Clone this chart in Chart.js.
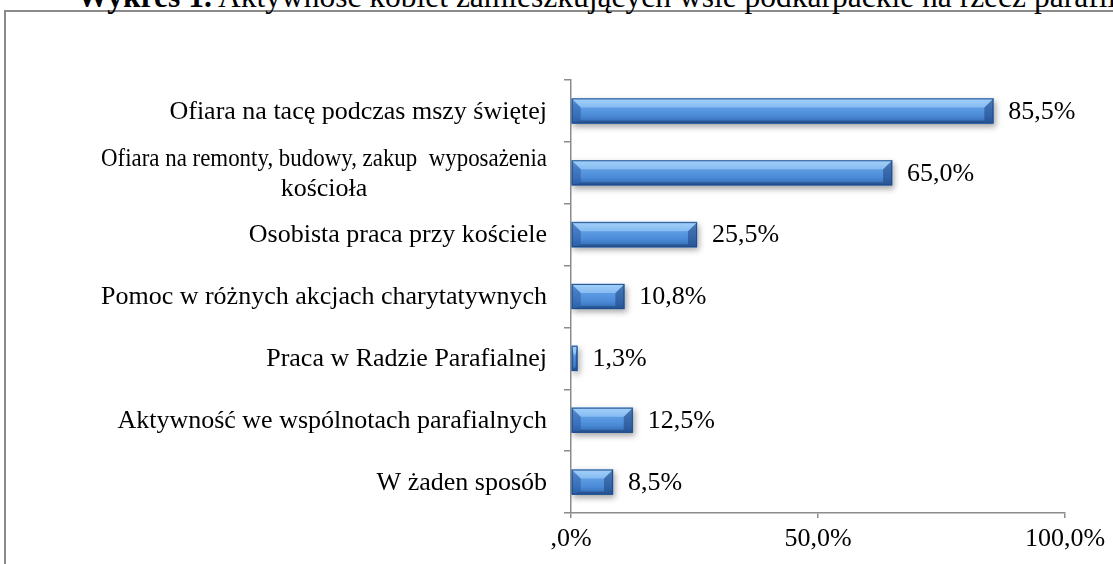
<!DOCTYPE html>
<html>
<head>
<meta charset="utf-8">
<script src="https://cdn.jsdelivr.net/npm/chart.js@4"></script>
<style>
  html, body { margin: 0; padding: 0; background: #fff; overflow: hidden; }
  #wrap { position: relative; width: 1113px; height: 564px; }
  #frame { position: absolute; left: 4px; top: 10px; width: 1300px; height: 700px; border: 2px solid #8a8a8a; }
  #title { position: absolute; left: 77px; top: -19px; font: 31.5px "Liberation Serif", "Times New Roman", serif; line-height: 1; white-space: nowrap; color: #000; }
  canvas { position: absolute; left: 0; top: 0; }
</style>
</head>
<body>
<div id="wrap">
  <div id="frame"></div>
  <div id="title"></div>
  <canvas id="chart" width="1113" height="564"></canvas>
</div>
<script>
const titleLead = "Wykres 1.";
const titleText = " Aktywność kobiet zamieszkujących wsie podkarpackie na rzecz parafii";

const categories = [
    "Ofiara na tacę podczas mszy świętej",
    ["Ofiara na remonty, budowy, zakup  wyposażenia", "kościoła"],
    "Osobista praca przy kościele",
    "Pomoc w różnych akcjach charytatywnych",
    "Praca w Radzie Parafialnej",
    "Aktywność we wspólnotach parafialnych",
    "W żaden sposób"
];
const values = [85.5, 65.0, 25.5, 10.8, 1.3, 12.5, 8.5];
const xTickLabels = [",0%", "50,0%", "100,0%"];

const FONT = '"Liberation Serif", "Times New Roman", serif';
const FONT_SIZE = 26;
const CAT_FONT_SIZE = 26;

const t = document.getElementById("title");
const b = document.createElement("b");
b.textContent = titleLead;
t.appendChild(b);
t.appendChild(document.createTextNode(titleText));

function fmt(v) {
    return v.toFixed(1).replace(".", ",") + "%";
}

// cień pod słupkami
const shadowPlugin = {
    id: "shadow",
    beforeDatasetDraw(chart) {
        const ctx = chart.ctx;
        ctx.save();
        ctx.shadowColor = "rgba(0,0,0,0.35)";
        ctx.shadowBlur = 6;
        ctx.shadowOffsetX = 2;
        ctx.shadowOffsetY = 3;
    },
    afterDatasetDraw(chart) {
        chart.ctx.restore();
    }
};

// efekt fazowania (bevel) jak w Excelu
const bevelPlugin = {
    id: "bevel",
    afterDatasetsDraw(chart) {
        const ctx = chart.ctx;
        chart.getDatasetMeta(0).data.forEach(el => {
            const p = el.getProps(["x", "y", "base", "height"], true);
            const x0 = Math.min(p.base, p.x), x1 = Math.max(p.base, p.x);
            const y0 = p.y - p.height / 2, y1 = p.y + p.height / 2;
            const w = x1 - x0;
            const bx = Math.min(9, w / 3);
            const bt = 9, bb = 3;
            ctx.save();
            const g = ctx.createLinearGradient(0, y0, 0, y1);
            g.addColorStop(0, "#93c6f5");
            g.addColorStop(0.3, "#62a1e6");
            g.addColorStop(0.7, "#4a89d6");
            g.addColorStop(1, "#3268ad");
            ctx.fillStyle = g;
            ctx.fillRect(x0, y0, w, y1 - y0);
            // lewa krawędź
            ctx.fillStyle = "rgba(35,80,150,0.45)";
            ctx.beginPath();
            ctx.moveTo(x0, y0); ctx.lineTo(x0 + bx, y0 + bt); ctx.lineTo(x0 + bx, y1 - bb); ctx.lineTo(x0, y1);
            ctx.closePath(); ctx.fill();
            // prawa krawędź
            ctx.fillStyle = "rgba(25,60,120,0.5)";
            ctx.beginPath();
            ctx.moveTo(x1, y0); ctx.lineTo(x1 - bx, y0 + bt); ctx.lineTo(x1 - bx, y1 - bb); ctx.lineTo(x1, y1);
            ctx.closePath(); ctx.fill();
            // góra
            ctx.fillStyle = "rgba(180,220,255,0.5)";
            ctx.beginPath();
            ctx.moveTo(x0, y0); ctx.lineTo(x1, y0); ctx.lineTo(x1 - bx, y0 + bt); ctx.lineTo(x0 + bx, y0 + bt);
            ctx.closePath(); ctx.fill();
            // dół
            ctx.fillStyle = "rgba(20,50,100,0.4)";
            ctx.beginPath();
            ctx.moveTo(x0, y1); ctx.lineTo(x1, y1); ctx.lineTo(x1 - bx, y1 - bb); ctx.lineTo(x0 + bx, y1 - bb);
            ctx.closePath(); ctx.fill();
            ctx.strokeStyle = "rgba(30,75,135,0.9)";
            ctx.lineWidth = 1;
            ctx.strokeRect(x0 + 0.5, y0 + 0.5, w - 1, y1 - y0 - 1);
            ctx.restore();
        });
    }
};

// wartości przy słupkach
const valueLabels = {
    id: "valueLabels",
    afterDatasetsDraw(chart) {
        const ctx = chart.ctx;
        ctx.save();
        ctx.font = FONT_SIZE + "px " + FONT;
        ctx.fillStyle = "#000";
        ctx.textAlign = "left";
        ctx.textBaseline = "middle";
        chart.getDatasetMeta(0).data.forEach((el, i) => {
            ctx.fillText(fmt(values[i]), el.x + 15, el.y + 1);
        });
        ctx.restore();
    }
};

// etykiety kategorii: blok wyrównany do prawej, wiersze wyśrodkowane
const categoryLabels = {
    id: "categoryLabels",
    afterDraw(chart) {
        const ctx = chart.ctx;
        const scale = chart.scales.y;
        const right = scale.right - 24;
        const lineH = 30;
        const maxW = 446;
        ctx.save();
        ctx.font = CAT_FONT_SIZE + "px " + FONT;
        ctx.fillStyle = "#000";
        ctx.textAlign = "center";
        ctx.textBaseline = "middle";
        categories.forEach((c, i) => {
            const lines = Array.isArray(c) ? c : [c];
            const wMax = Math.min(maxW, Math.max(...lines.map(l => ctx.measureText(l).width)));
            const cx = right - wMax / 2;
            const yc = scale.getPixelForValue(i);
            lines.forEach((l, k) => {
                ctx.fillText(l, cx, yc + 1 + (k - (lines.length - 1) / 2) * lineH, maxW);
            });
        });
        ctx.restore();
    }
};

const ctx = document.getElementById("chart").getContext("2d");
new Chart(ctx, {
    type: "bar",
    data: {
        labels: categories,
        datasets: [{
            data: values,
            backgroundColor: "#4a89d6",
            borderWidth: 0,
            barThickness: 25
        }]
    },
    plugins: [shadowPlugin, bevelPlugin, valueLabels, categoryLabels],
    options: {
        indexAxis: "y",
        responsive: false,
        animation: false,
        layout: { padding: { top: 80, right: 48, left: 0, bottom: 0 } },
        plugins: {
            legend: { display: false },
            tooltip: { enabled: false }
        },
        scales: {
            x: {
                min: 0,
                max: 100,
                ticks: {
                    stepSize: 50,
                    color: "#000",
                    font: { family: FONT, size: FONT_SIZE },
                    padding: 6,
                    maxRotation: 0,
                    callback: (v, i) => xTickLabels[i]
                },
                grid: { drawOnChartArea: false, tickLength: 5, color: "#8c8c8c", lineWidth: 1.5 },
                border: { color: "#8c8c8c", width: 1.5 },
                afterFit(scale) { scale.height = 51; }
            },
            y: {
                ticks: { display: false },
                grid: { drawOnChartArea: false, tickLength: 7, color: "#8c8c8c", lineWidth: 1.5 },
                border: { color: "#8c8c8c", width: 1.5 },
                afterFit(scale) { scale.width = 571; }
            }
        }
    }
});
</script>
</body>
</html>
